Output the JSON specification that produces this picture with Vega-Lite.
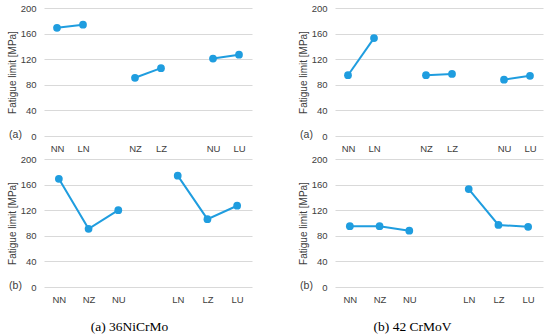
{
  "$schema": "https://vega.github.io/schema/vega-lite/v6.json",
  "padding": {"left": 7, "top": 3, "right": 3, "bottom": 2},
  "background": "white",
  "datasets": {
    "a1": [
      {"cat": "NN", "grp": "N", "v": 169},
      {"cat": "LN", "grp": "N", "v": 174},
      {"cat": "NZ", "grp": "Z", "v": 91},
      {"cat": "LZ", "grp": "Z", "v": 106},
      {"cat": "NU", "grp": "U", "v": 121},
      {"cat": "LU", "grp": "U", "v": 127}
    ],
    "a2": [
      {"cat": "NN", "grp": "N", "v": 169},
      {"cat": "NZ", "grp": "N", "v": 91},
      {"cat": "NU", "grp": "N", "v": 120},
      {"cat": "LN", "grp": "L", "v": 174},
      {"cat": "LZ", "grp": "L", "v": 106},
      {"cat": "LU", "grp": "L", "v": 127}
    ],
    "b1": [
      {"cat": "NN", "grp": "N", "v": 95},
      {"cat": "LN", "grp": "N", "v": 153},
      {"cat": "NZ", "grp": "Z", "v": 95},
      {"cat": "LZ", "grp": "Z", "v": 97},
      {"cat": "NU", "grp": "U", "v": 88},
      {"cat": "LU", "grp": "U", "v": 94}
    ],
    "b2": [
      {"cat": "NN", "grp": "N", "v": 95},
      {"cat": "NZ", "grp": "N", "v": 95},
      {"cat": "NU", "grp": "N", "v": 88},
      {"cat": "LN", "grp": "L", "v": 153},
      {"cat": "LZ", "grp": "L", "v": 97},
      {"cat": "LU", "grp": "L", "v": 94}
    ]
  },
  "config": {
    "view": {"stroke": null},
    "font": "Liberation Sans",
    "axis": {
      "labelFont": "Liberation Sans",
      "titleFont": "Liberation Sans",
      "labelColor": "#404040",
      "titleColor": "#404040",
      "labelFontSize": 9.5,
      "titleFontSize": 10,
      "titleFontWeight": "normal",
      "gridColor": "#d9d9d9",
      "domain": false,
      "ticks": false
    },
    "title": {"font": "Liberation Serif", "fontSize": 13.5, "fontWeight": "normal", "color": "#000000", "anchor": "middle"},
    "concat": {"spacing": 46}
  },
  "hconcat": [
    {
      "title": {"text": "(a) 36NiCrMo", "orient": "bottom", "offset": 16, "anchor": "middle", "dx": 0},
      "spacing": 1,
      "vconcat": [
        {
          "width": 208, "height": 128,
          "data": {"name": "a1"},
          "mark": {"type": "line", "color": "#1f9ddf", "strokeWidth": 2, "point": {"filled": true, "size": 60, "color": "#1f9ddf"}},
          "encoding": {
            "x": {"field": "cat", "type": "ordinal", "sort": null,
                  "scale": {"type": "point", "padding": 0.5, "domain": ["NN", "LN", "_1", "NZ", "LZ", "_2", "NU", "LU"]},
                  "axis": {"grid": false, "labelAngle": 0, "labelPadding": 7, "labelExpr": "indexof(datum.value,'_')==0 ? '' : datum.value",
                           "title": "(a)", "titleX": -29, "titleY": -2, "titleAnchor": null, "titleAlign": "center", "titleBaseline": "middle", "titleFontSize": 10.5}},
            "y": {"field": "v", "type": "quantitative", "scale": {"domain": [0, 200]},
                  "axis": {"values": [0, 40, 80, 120, 160, 200], "title": "Fatigue limit [MPa]", "labelPadding": 8, "titlePadding": 3}},
            "detail": {"field": "grp"}
          }
        },
        {
          "width": 208, "height": 128,
          "data": {"name": "a2"},
          "mark": {"type": "line", "color": "#1f9ddf", "strokeWidth": 2, "point": {"filled": true, "size": 60, "color": "#1f9ddf"}},
          "encoding": {
            "x": {"field": "cat", "type": "ordinal", "sort": null,
                  "scale": {"type": "point", "padding": 0.5, "domain": ["NN", "NZ", "NU", "_1", "LN", "LZ", "LU"]},
                  "axis": {"grid": false, "labelAngle": 0, "labelPadding": 7, "labelExpr": "indexof(datum.value,'_')==0 ? '' : datum.value",
                           "title": "(b)", "titleX": -29, "titleY": -2, "titleAnchor": null, "titleAlign": "center", "titleBaseline": "middle", "titleFontSize": 10.5}},
            "y": {"field": "v", "type": "quantitative", "scale": {"domain": [0, 200]},
                  "axis": {"values": [0, 40, 80, 120, 160, 200], "title": "Fatigue limit [MPa]", "labelPadding": 8, "titlePadding": 3}},
            "detail": {"field": "grp"}
          }
        }
      ]
    },
    {
      "title": {"text": "(b) 42 CrMoV", "orient": "bottom", "offset": 16, "anchor": "middle", "dx": -8},
      "spacing": 1,
      "vconcat": [
        {
          "width": 208, "height": 128,
          "data": {"name": "b1"},
          "mark": {"type": "line", "color": "#1f9ddf", "strokeWidth": 2, "point": {"filled": true, "size": 60, "color": "#1f9ddf"}},
          "encoding": {
            "x": {"field": "cat", "type": "ordinal", "sort": null,
                  "scale": {"type": "point", "padding": 0.5, "domain": ["NN", "LN", "_1", "NZ", "LZ", "_2", "NU", "LU"]},
                  "axis": {"grid": false, "labelAngle": 0, "labelPadding": 7, "labelExpr": "indexof(datum.value,'_')==0 ? '' : datum.value",
                           "title": "(a)", "titleX": -29, "titleY": -2, "titleAnchor": null, "titleAlign": "center", "titleBaseline": "middle", "titleFontSize": 10.5}},
            "y": {"field": "v", "type": "quantitative", "scale": {"domain": [0, 200]},
                  "axis": {"values": [0, 40, 80, 120, 160, 200], "title": "Fatigue limit [MPa]", "labelPadding": 8, "titlePadding": 3}},
            "detail": {"field": "grp"}
          }
        },
        {
          "width": 208, "height": 128,
          "data": {"name": "b2"},
          "mark": {"type": "line", "color": "#1f9ddf", "strokeWidth": 2, "point": {"filled": true, "size": 60, "color": "#1f9ddf"}},
          "encoding": {
            "x": {"field": "cat", "type": "ordinal", "sort": null,
                  "scale": {"type": "point", "padding": 0.5, "domain": ["NN", "NZ", "NU", "_1", "LN", "LZ", "LU"]},
                  "axis": {"grid": false, "labelAngle": 0, "labelPadding": 7, "labelExpr": "indexof(datum.value,'_')==0 ? '' : datum.value",
                           "title": "(b)", "titleX": -29, "titleY": -2, "titleAnchor": null, "titleAlign": "center", "titleBaseline": "middle", "titleFontSize": 10.5}},
            "y": {"field": "v", "type": "quantitative", "scale": {"domain": [0, 200]},
                  "axis": {"values": [0, 40, 80, 120, 160, 200], "title": "Fatigue limit [MPa]", "labelPadding": 8, "titlePadding": 3}},
            "detail": {"field": "grp"}
          }
        }
      ]
    }
  ]
}
